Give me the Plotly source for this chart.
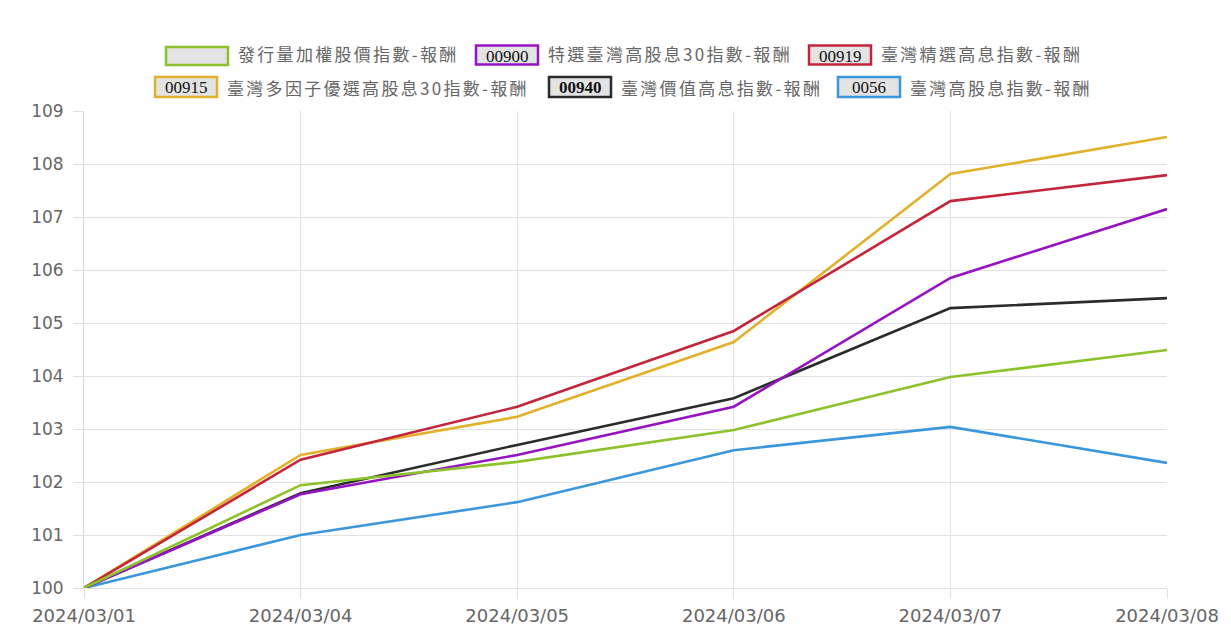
import plotly.graph_objects as go

dates = ["2024/03/01", "2024/03/04", "2024/03/05", "2024/03/06", "2024/03/07", "2024/03/08"]

names = ["發行量加權股價指數-報酬", "特選臺灣高股息30指數-報酬", "臺灣精選高息指數-報酬",
         "臺灣多因子優選高股息30指數-報酬", "臺灣價值高息指數-報酬", "臺灣高股息指數-報酬"]
codes = ["", "00900", "00919", "00915", "00940", "0056"]
colors = ["#8dc22c", "#9513c1", "#c4253a", "#e2b12c", "#2b2b2b", "#3b97dc"]

taiex = [100, 101.94, 102.38, 102.98, 103.98, 104.49]
idx_00900 = [100, 101.77, 102.51, 103.42, 105.85, 107.15]
idx_00919 = [100, 102.42, 103.42, 104.85, 107.30, 107.79]
idx_00915 = [100, 102.51, 103.23, 104.64, 107.81, 108.51]
idx_00940 = [100, 101.79, 102.70, 103.58, 105.28, 105.47]
idx_0056 = [100, 101.00, 101.62, 102.60, 103.04, 102.36]
series = [taiex, idx_00900, idx_00919, idx_00915, idx_00940, idx_0056]

y_ticks = [100, 101, 102, 103, 104, 105, 106, 107, 108, 109]

W, H = 1231, 637
L, R, T, B = 84, 64, 111, 49
pw, ph = W - L - R, H - T - B

def px(x):
    return (x - L) / pw

def py(y):
    return (H - B - y) / ph

fig = go.Figure()
for i in reversed(range(len(series))):
    fig.add_trace(go.Scatter(x=dates, y=series[i], mode="lines", name=names[i],
                             line=dict(color=colors[i], width=2.6), showlegend=False))

# custom legend (Chart.js-like boxes)
legend_pos = [(166, 56, 18), (476, 55, 19), (809, 55, 19), (155, 87, 20), (549, 87, 20), (838, 87, 20)]
text_y = [53, 53, 53, 87, 87, 87]
shapes = []
annotations = []
for i, (bx, cy, bh) in enumerate(legend_pos):
    shapes.append(dict(type="rect", xref="paper", yref="paper",
                       x0=px(bx), x1=px(bx + 62), y0=py(cy + bh / 2), y1=py(cy - bh / 2),
                       line=dict(color=colors[i], width=2.5), fillcolor="#e3e3e3"))
    if codes[i]:
        txt = f"<b>{codes[i]}</b>" if codes[i] == "00940" else codes[i]
        annotations.append(dict(xref="paper", yref="paper", x=px(bx + 31), y=py(cy + 1),
                                text=txt, showarrow=False, xanchor="center", yanchor="middle",
                                font=dict(family="Liberation Serif, Times New Roman, serif",
                                          size=17, color="#111")))
    annotations.append(dict(xref="paper", yref="paper", x=px(bx + 70), y=py(text_y[i]),
                            text=f'<span style="letter-spacing:2.3px">{names[i]}</span>',
                            showarrow=False, xanchor="left", yanchor="middle",
                            font=dict(family="Noto Sans CJK TC, DejaVu Sans, sans-serif",
                                      size=17, color="#666")))

fig.update_layout(
    width=W, height=H,
    margin=dict(l=L, r=R, t=T, b=B, pad=0, autoexpand=False),
    plot_bgcolor="white", paper_bgcolor="white",
    shapes=shapes, annotations=annotations,
    font=dict(family="DejaVu Sans, Arial, sans-serif", size=17, color="#666"),
    xaxis=dict(type="category", range=[0, 5], showgrid=True, gridcolor="#e2e2e2",
               ticks="outside", ticklen=10, tickcolor="#e2e2e2", zeroline=False,
               showline=True, linecolor="#e2e2e2", ticklabelstandoff=1, automargin=False,
               tickfont=dict(family="DejaVu Sans, Arial, sans-serif", size=18, color="#666")),
    yaxis=dict(range=[100, 109], tickvals=y_ticks, showgrid=True, gridcolor="#e2e2e2",
               ticks="outside", ticklen=10, tickcolor="#e2e2e2", zeroline=False,
               showline=True, linecolor="#d8d8d8", ticklabelstandoff=6, automargin=False,
               tickfont=dict(family="DejaVu Sans, Arial, sans-serif", size=17, color="#666")),
)

fig.write_html("out.html")
